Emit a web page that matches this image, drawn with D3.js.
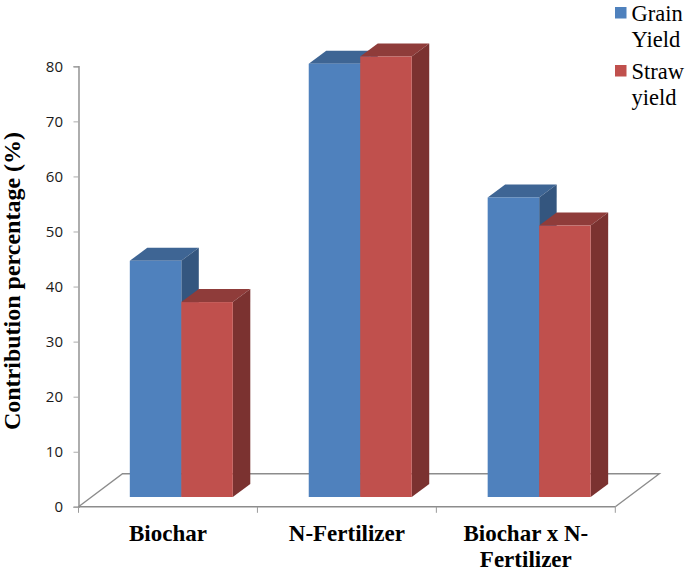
<!DOCTYPE html>
<html><head><meta charset="utf-8">
<script src="https://cdn.jsdelivr.net/npm/d3@7/dist/d3.min.js"></script>
<style>html,body{margin:0;padding:0;background:#fff}svg{display:block}</style>
</head><body><svg id="c" width="685" height="574"></svg>
<script>
const categories = ["Biochar", "N-Fertilizer", "Biochar x N-Fertilizer"];
const categoryLines = [["Biochar"], ["N-Fertilizer"], ["Biochar x N-", "Fertilizer"]];
const seriesNames = ["Grain Yield", "Straw yield"];
const legendLines = [["Grain", "Yield"], ["Straw", "yield"]];
const grainYield = [42.9, 78.7, 54.4];
const strawYield = [35.4, 80, 49.3];
const yTicks = [0, 10, 20, 30, 40, 50, 60, 70, 80];
const yTitle = "Contribution percentage (%)";

const colors = {
  "Grain Yield": {front: "#4F81BD", top: "#3E6594", side: "#34567F"},
  "Straw yield": {front: "#C0504D", top: "#8F3C3A", side: "#7B3230"}
};
const depth = {dx: 17.5, dy: -13};
const floor = {dx: 44, dy: -33};
const barLift = 9.8, barInset = 51.3, groupWidth = 103;

const svg = d3.select("#c");
const y = d3.scaleLinear().domain([0, 80]).range([506.8, 66.3]);
const xCat = d3.scaleBand().domain(categories).range([78.5, 615.3]);
const xSer = d3.scaleBand().domain(seriesNames).range([0, groupWidth]);
const values = {"Grain Yield": grainYield, "Straw yield": strawYield};
const axisGrey = "#8C8C8C";

// floor
const x0 = xCat.range()[0], x1 = xCat.range()[1], y0 = y(0);
svg.append("path")
  .attr("d", d3.line()([[x0, y0], [x0 + floor.dx, y0 + floor.dy], [x1 + floor.dx, y0 + floor.dy], [x1, y0]]))
  .attr("fill", "none").attr("stroke", axisGrey).attr("stroke-width", 1.4);

// value axis
const yAxis = svg.append("g").attr("transform", `translate(${x0},0)`)
  .call(d3.axisLeft(y).tickValues(yTicks).tickSize(5).tickPadding(10.5));
yAxis.select(".domain").attr("stroke", axisGrey).attr("stroke-width", 1.4);
yAxis.selectAll(".tick line").attr("stroke", "#ABABAB").attr("stroke-width", 1);
yAxis.selectAll("text").attr("font-family", "Open Sans").attr("font-size", 15).attr("fill", "#1a1a1a");

// category axis
svg.append("line").attr("x1", x0).attr("x2", x1).attr("y1", y0).attr("y2", y0)
  .attr("stroke", axisGrey).attr("stroke-width", 1.4);
const catTicks = categories.map(c => xCat(c)).concat([x1]);
svg.selectAll(".ctick").data(catTicks).join("line").attr("class", "ctick")
  .attr("x1", d => d).attr("x2", d => d).attr("y1", y0).attr("y2", y0 + 6)
  .attr("stroke", "#9A9A9A").attr("stroke-width", 1);

// bars
categories.forEach((c, i) => {
  seriesNames.forEach(s => {
    const left = xCat(c) + barInset + xSer(s), w = xSer.bandwidth();
    const bottom = y0 - barLift, top = y(values[s][i]) - barLift;
    const col = colors[s];
    const g = svg.append("g");
    g.append("path").attr("fill", col.top)
      .attr("d", d3.line()([[left, top], [left + depth.dx, top + depth.dy], [left + w + depth.dx, top + depth.dy], [left + w, top]]));
    g.append("path").attr("fill", col.side)
      .attr("d", d3.line()([[left + w, top], [left + w + depth.dx, top + depth.dy], [left + w + depth.dx, bottom + depth.dy], [left + w, bottom]]));
    g.append("rect").attr("x", left).attr("y", top).attr("width", w).attr("height", bottom - top).attr("fill", col.front);
  });
  const cx = xCat(c) + xCat.bandwidth() / 2;
  categoryLines[i].forEach((t, k) => {
    svg.append("text").attr("x", cx).attr("y", 540.5 + k * 26).attr("text-anchor", "middle")
      .attr("font-family", "Liberation Serif").attr("font-weight", "bold").attr("font-size", 23).attr("fill", "#000").text(t);
  });
});

// y title
svg.append("text").attr("transform", "translate(20,281) rotate(-90)").attr("text-anchor", "middle")
  .attr("font-family", "Liberation Serif").attr("font-weight", "bold").attr("font-size", 24).attr("fill", "#000").text(yTitle);

// legend
const legendTop = [7, 65];
seriesNames.forEach((s, i) => {
  svg.append("rect").attr("x", 615).attr("y", legendTop[i]).attr("width", 11.5).attr("height", 11.5).attr("fill", colors[s].front);
  legendLines[i].forEach((t, k) => {
    svg.append("text").attr("x", 631.5).attr("y", legendTop[i] + 13.5 + k * 26).attr("font-family", "Liberation Serif")
      .attr("font-size", 22.5).attr("fill", "#000").text(t);
  });
});
</script></body></html>
